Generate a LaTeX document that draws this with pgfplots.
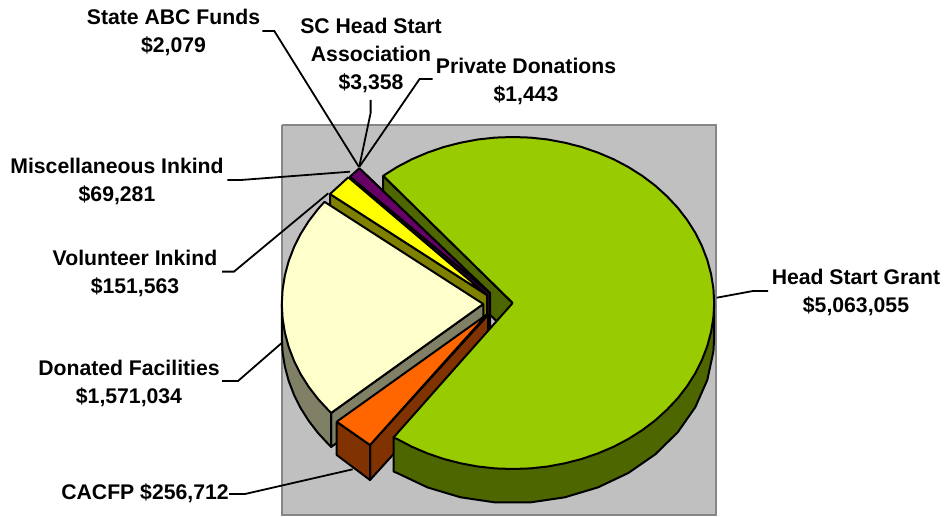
\documentclass[border=0pt]{standalone}
\usepackage{fontspec}
\setmainfont{Liberation Sans}
\usepackage{pgfplots}
\pgfplotsset{compat=1.18}
\definecolor{plotbg}{HTML}{C0C0C0}
\definecolor{plotedge}{HTML}{868686}
\definecolor{grant}{HTML}{99CC00}
\definecolor{grantdk}{HTML}{4D6600}
\definecolor{cacfp}{HTML}{FF6600}
\definecolor{cacfpdk}{HTML}{803300}
\definecolor{facil}{HTML}{FFFFCC}
\definecolor{facildk}{HTML}{808066}
\definecolor{volun}{HTML}{FFFF00}
\definecolor{volundk}{HTML}{808000}
\definecolor{misc}{HTML}{660066}
\definecolor{miscdk}{HTML}{330033}
\pgfplotsset{
  slice/.style={draw=black, line width=2pt, line join=round, mark=none},
  leader/.style={draw=black, line width=1.8pt, mark=none},
}
\newcommand{\lab}{\fontsize{21.2}{28}\selectfont\bfseries}
\begin{document}
\begin{tikzpicture}
\begin{axis}[
  width=945pt, height=516pt, scale only axis,
  xmin=0, xmax=945, ymin=0, ymax=516,
  y dir=reverse,
  hide axis,
  clip=false,
]
% keeps the page at the full chart size
\path (axis cs:0,0) rectangle (axis cs:945,516);

% plot area
\addplot[fill=plotbg, draw=plotedge, line width=2.2pt, mark=none] coordinates {
  (282,125) (716,125) (716,515) (282,515) (282,125)};

% wall of the big slice seen in the gap
\addplot[slice, fill=grantdk] coordinates {
  (383.2,175.8) (512.7,303) (512.7,337) (383.2,209.8) (383.2,175.8)};

% small purple slice
\addplot[slice, fill=miscdk] coordinates {
  (359.3,168.3) (490,293) (490,327) (359.3,202) (359.3,168.3)};
\addplot[slice, fill=misc] coordinates {
  (359.3,168.3) (350,176.7) (490,293) (359.3,168.3)};

% yellow slice
\addplot[slice, fill=volundk] coordinates {
  (330,194) (487,295) (487,329) (330,228) (330,194)};
\addplot[slice, fill=volun] coordinates {
  (348.3,177.3) (330,194) (487,295) (348.3,177.3)};

% donated facilities
\addplot[slice, fill=facildk] coordinates {
  (331.2,412.9) (483.3,304) (483.3,338) (331.2,446.9) (331.2,412.9)};
\addplot[slice, fill=facildk] coordinates {
  (281.8,304) (281.8,338) (282.6,352.5) (284.9,366.8) (288.7,381) (294,394.8)
  (300.7,408.2) (308.8,421) (318.2,433.2) (328.9,444.7) (331.2,446.9)
  (331.2,412.9) (281.8,304)};
\addplot[slice, fill=facil] coordinates {
  (483.3,304) (324.5,201.8) (318.2,208.8) (308.8,221) (300.7,233.8) (294,247.2)
  (288.7,261) (284.9,275.2) (282.6,289.5) (281.8,304) (282.6,318.5) (284.9,332.8)
  (288.7,347) (294,360.8) (300.7,374.2) (308.8,387) (318.2,399.2) (328.9,410.7)
  (331.2,412.9) (483.3,304)};

% CACFP
\addplot[slice, fill=cacfpdk] coordinates {
  (370,445) (488,315) (488,350) (370,480) (370,445)};
\addplot[slice, fill=cacfpdk] coordinates {
  (336.7,421.7) (370,445) (370,480) (336.7,455) (336.7,421.7)};
\addplot[slice, fill=cacfp] coordinates {
  (336.7,421.7) (370,445) (487.5,314) (336.7,421.7)};

% head start grant
\addplot[slice, fill=grantdk] coordinates {
  (714.2,303) (714.2,337) (713.4,351.5) (707.3,380) (695.3,407.2) (677.8,432.2)
  (655.2,454.4) (628.3,473) (597.9,487.4) (564.8,497.3) (530.3,502.4) (495.1,502.4)
  (460.6,497.3) (427.5,487.4) (397.1,473) (393.5,471.5) (393.5,437.5) (714.2,303)};
\addplot[slice, fill=grant] coordinates {
  (512.7,303) (383.2,175.8) (397.1,167) (412,159.2) (427.5,152.6) (443.8,147)
  (460.6,142.7) (477.7,139.5) (495.1,137.6) (512.7,137) (530.3,137.6) (547.7,139.5)
  (564.8,142.7) (581.6,147) (597.9,152.6) (613.5,159.2) (628.3,167) (642.2,175.8)
  (655.2,185.6) (667,196.3) (677.8,207.8) (687.2,220) (695.3,232.8) (702,246.2)
  (707.3,260) (711.1,274.2) (713.4,288.5) (714.2,303) (713.4,317.5) (711.1,331.8)
  (707.3,346) (702,359.8) (695.3,373.2) (687.2,386) (677.8,398.2) (667,409.7)
  (655.2,420.4) (642.2,430.2) (628.3,439) (613.5,446.8) (597.9,453.4) (581.6,459)
  (564.8,463.3) (547.7,466.5) (530.3,468.4) (512.7,469) (495.1,468.4) (477.7,466.5)
  (460.6,463.3) (443.8,459) (427.5,453.4) (412,446.8) (397.1,439) (393.5,437.5)
  (512.7,303)};

% leader lines
\addplot[leader] coordinates {(262.4,31) (274.3,31) (359,167)};
\addplot[leader] coordinates {(370.6,100) (370.6,113) (359.2,167)};
\addplot[leader] coordinates {(432.6,79) (419.6,79) (359.2,167)};
\addplot[leader] coordinates {(227.3,180) (240.8,180) (350,171.7)};
\addplot[leader] coordinates {(222,271.6) (234,271.6) (328.3,193.3)};
\addplot[leader] coordinates {(222,381) (238,381) (281.7,343)};
\addplot[leader] coordinates {(229,494) (245,494) (352.7,469.3)};
\addplot[leader] coordinates {(768,291) (753,291) (716.7,297.7)};

% labels
\node[align=center, font=\lab] at (axis cs:173.5,32.5) {State ABC Funds\\\$2,079};
\node[align=center, font=\lab] at (axis cs:371,55.5) {SC Head Start\\Association\\\$3,358};
\node[align=center, font=\lab] at (axis cs:526,81.5) {Private Donations\\\$1,443};
\node[align=center, font=\lab] at (axis cs:117,181.5) {Miscellaneous Inkind\\\$69,281};
\node[align=center, font=\lab] at (axis cs:135,273.5) {Volunteer Inkind\\\$151,563};
\node[align=center, font=\lab] at (axis cs:129,383.5) {Donated Facilities\\\$1,571,034};
\node[align=center, font=\lab] at (axis cs:145,493.5) {CACFP \$256,712};
\node[align=center, font=\lab] at (axis cs:856,292) {Head Start Grant\\\$5,063,055};
\end{axis}
\end{tikzpicture}
\end{document}
